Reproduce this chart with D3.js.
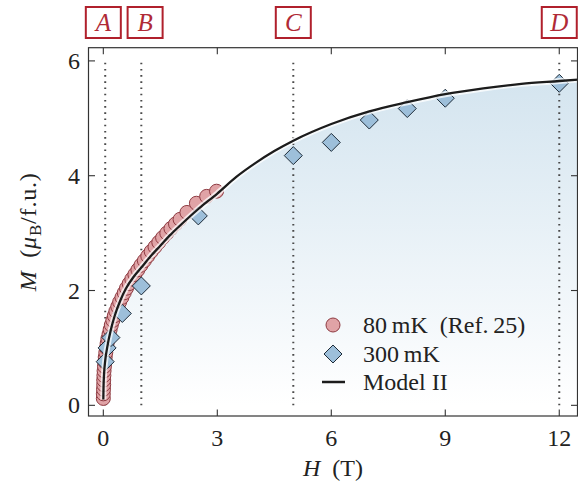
<!DOCTYPE html>
<html>
<head>
<meta charset="utf-8">
<script src="https://cdn.jsdelivr.net/npm/d3@7"></script>
<style>
  html, body { margin: 0; padding: 0; background: #fff; }
  svg { display: block; }
  text { font-family: "Liberation Serif", "Times New Roman", Times, serif; fill: #222; }
</style>
</head>
<body>
<script>
// Magnetization M(H): 80 mK data, 300 mK data and the Model II curve
const xTicks = [0, 3, 6, 9, 12];
const yTicks = [0, 2, 4, 6];

// 80 mK (Ref. 25)
const h80 = [0.00, 0.00, 0.005, 0.01, 0.01, 0.015, 0.02, 0.03, 0.04, 0.05, 0.065, 0.08, 0.10, 0.12,
             0.15, 0.18, 0.21, 0.25, 0.29, 0.33, 0.38, 0.43, 0.49, 0.55, 0.61, 0.68, 0.75, 0.83,
             0.91, 0.99, 1.08, 1.17, 1.26, 1.36, 1.46, 1.56, 1.67, 1.78, 1.90, 2.02, 2.20, 2.45,
             2.72, 2.98];
const m80 = [0.12, 0.20, 0.28, 0.36, 0.44, 0.52, 0.60, 0.68, 0.76, 0.84, 0.92, 1.00, 1.08, 1.16,
             1.24, 1.32, 1.40, 1.48, 1.56, 1.64, 1.72, 1.80, 1.88, 1.96, 2.04, 2.12, 2.20, 2.28,
             2.36, 2.44, 2.52, 2.60, 2.68, 2.76, 2.84, 2.92, 3.00, 3.08, 3.16, 3.24, 3.36, 3.52,
             3.64, 3.73];

// 300 mK
const h300 = [0.05, 0.10, 0.20, 0.50, 1.00, 2.50, 5, 6, 7, 8, 9, 12];
const m300 = [0.76, 1.00, 1.18, 1.60, 2.08, 3.30, 4.35, 4.58, 4.97, 5.17, 5.35, 5.61];

// Model II
const hModel = [0, 0.005, 0.02, 0.05, 0.10, 0.20, 0.30, 0.45, 0.60, 0.80, 1.00, 1.25, 1.50, 1.75,
                2.00, 2.50, 3.00, 3.50, 4.00, 4.50, 5, 6, 7, 8, 9, 10, 11, 12, 12.6];
const mModel = [0.10, 0.30, 0.55, 0.78, 1.00, 1.32, 1.56, 1.83, 2.04, 2.24, 2.40, 2.60, 2.78, 2.96,
                3.12, 3.42, 3.69, 3.98, 4.22, 4.43, 4.61, 4.90, 5.12, 5.28, 5.42, 5.52, 5.60, 5.65, 5.68];

// Marked fields A-D
const markLabels = ["A", "B", "C", "D"];
const markLineH = [0.05, 1, 5, 12];
const markBoxH = [0, 1.1, 5, 12];

const W = 578, H = 489;
const plot = { left: 88.5, right: 577.5, top: 47.7, bottom: 416 };

const x = d3.scaleLinear().domain([-0.39, 12.48]).range([plot.left, plot.right]);
const y = d3.scaleLinear().domain([-0.186, 6.23]).range([plot.bottom, plot.top]);

const svg = d3.select("body").append("svg").attr("width", W).attr("height", H);
const defs = svg.append("defs");

defs.append("clipPath").attr("id", "plotClip")
  .append("rect")
  .attr("x", plot.left).attr("y", plot.top)
  .attr("width", plot.right - plot.left).attr("height", plot.bottom - plot.top);

const grad = defs.append("linearGradient").attr("id", "fillGrad")
  .attr("gradientUnits", "userSpaceOnUse")
  .attr("x1", 0).attr("x2", 0).attr("y1", y(5.8)).attr("y2", y(0));
grad.append("stop").attr("offset", 0).attr("stop-color", "#d3e4ef");
grad.append("stop").attr("offset", 1).attr("stop-color", "#ffffff");

const model = hModel.map((h, i) => [h, mModel[i]]);
const g = svg.append("g").attr("clip-path", "url(#plotClip)");

// shaded area under the model curve
g.append("path")
  .datum(model)
  .attr("d", d3.area().x(d => x(d[0])).y0(y.range()[0]).y1(d => y(d[1])).curve(d3.curveMonotoneX))
  .attr("fill", "url(#fillGrad)");

// dotted field markers
g.selectAll("line.mark").data(markLineH).join("line")
  .attr("class", "mark")
  .attr("x1", d => x(d)).attr("x2", d => x(d))
  .attr("y1", y(0)).attr("y2", y(6))
  .attr("stroke", "#4a4a4a").attr("stroke-width", 2)
  .attr("stroke-dasharray", "1.6,4.6");

// 80 mK circles
g.selectAll("circle.d80").data(h80.map((h, i) => [h, m80[i]])).join("circle")
  .attr("class", "d80")
  .attr("cx", d => x(d[0])).attr("cy", d => y(d[1])).attr("r", 7)
  .attr("fill", "#e0a3a6").attr("stroke", "#8e3b42").attr("stroke-width", 1);

// 300 mK diamonds
const diamond = s => `M0,${-s}L${s},0L0,${s}L${-s},0Z`;
g.selectAll("path.d300").data(h300.map((h, i) => [h, m300[i]])).join("path")
  .attr("class", "d300")
  .attr("transform", d => `translate(${x(d[0])},${y(d[1])})`)
  .attr("d", diamond(9))
  .attr("fill", "#9dbfda").attr("stroke", "#1d2b38").attr("stroke-width", 1);

// model curve with a light halo
const line = d3.line().x(d => x(d[0])).y(d => y(d[1])).curve(d3.curveMonotoneX);
g.append("path").datum(model).attr("d", line)
  .attr("fill", "none").attr("stroke", "#fff").attr("stroke-opacity", 0.75).attr("stroke-width", 6);
g.append("path").datum(model).attr("d", line)
  .attr("fill", "none").attr("stroke", "#1c1c1c").attr("stroke-width", 2.3);

// frame
svg.append("rect")
  .attr("x", plot.left).attr("y", plot.top)
  .attr("width", plot.right - plot.left).attr("height", plot.bottom - plot.top)
  .attr("fill", "none").attr("stroke", "#333").attr("stroke-width", 1.2);

// inward ticks on all four sides
const tk = 6.5;
const ticks = svg.append("g").attr("stroke", "#333").attr("stroke-width", 1.1);
xTicks.forEach(t => {
  ticks.append("line").attr("x1", x(t)).attr("x2", x(t)).attr("y1", plot.bottom).attr("y2", plot.bottom - tk);
  ticks.append("line").attr("x1", x(t)).attr("x2", x(t)).attr("y1", plot.top).attr("y2", plot.top + tk);
});
yTicks.forEach(t => {
  ticks.append("line").attr("x1", plot.left).attr("x2", plot.left + tk).attr("y1", y(t)).attr("y2", y(t));
  ticks.append("line").attr("x1", plot.right).attr("x2", plot.right - tk).attr("y1", y(t)).attr("y2", y(t));
});

// tick labels
svg.selectAll("text.xt").data(xTicks).join("text")
  .attr("class", "xt")
  .attr("x", d => x(d)).attr("y", 446)
  .attr("text-anchor", "middle").attr("font-size", 24)
  .text(d => d);
svg.selectAll("text.yt").data(yTicks).join("text")
  .attr("class", "yt")
  .attr("x", 80).attr("y", d => y(d) + 8)
  .attr("text-anchor", "end").attr("font-size", 24)
  .text(d => d);

// axis titles
const xl = svg.append("text").attr("x", (plot.left + plot.right) / 2).attr("y", 476)
  .attr("text-anchor", "middle").attr("font-size", 24);
xl.append("tspan").attr("font-style", "italic").text("H");
xl.append("tspan").text("\u2002(T)");

const yl = svg.append("text")
  .attr("transform", `translate(36,${(plot.top + plot.bottom) / 2}) rotate(-90)`)
  .attr("text-anchor", "middle").attr("font-size", 24)
  .attr("letter-spacing", 0.8);
yl.append("tspan").attr("font-style", "italic").text("M");
yl.append("tspan").text("\u2002(");
yl.append("tspan").attr("font-style", "italic").text("\u03bc");
yl.append("tspan").attr("font-size", 17).attr("dy", 5).text("B");
yl.append("tspan").attr("dy", -5).text("/f.u.)");

// field marker boxes
const boxW = 35, boxH = 31, boxTop = 7;
const boxes = svg.selectAll("g.box").data(markLabels).join("g")
  .attr("class", "box")
  .attr("transform", (d, i) => `translate(${x(markBoxH[i])},0)`);
boxes.append("rect")
  .attr("x", -boxW / 2).attr("y", boxTop).attr("width", boxW).attr("height", boxH)
  .attr("fill", "#fff").attr("stroke", "#b0202c").attr("stroke-width", 2);
boxes.append("text")
  .attr("x", 0).attr("y", boxTop + boxH / 2 + 8.5)
  .attr("text-anchor", "middle").attr("font-size", 25).attr("font-style", "italic")
  .style("fill", "#b02a36")
  .text(d => d);

// legend
const lg = svg.append("g");
lg.append("circle").attr("cx", 333).attr("cy", 325).attr("r", 7)
  .attr("fill", "#e0a3a6").attr("stroke", "#8e3b42").attr("stroke-width", 1);
lg.append("path").attr("transform", "translate(333,354)").attr("d", diamond(9))
  .attr("fill", "#9dbfda").attr("stroke", "#1d2b38").attr("stroke-width", 1);
lg.append("line").attr("x1", 322).attr("x2", 345).attr("y1", 382).attr("y2", 382)
  .attr("stroke", "#1c1c1c").attr("stroke-width", 2.5);
const legendText = ["80\u2009mK\u2002(Ref.\u200925)", "300\u2009mK", "Model II"];
lg.selectAll("text").data(legendText).join("text")
  .attr("x", 363).attr("y", (d, i) => 333 + i * 28.7)
  .attr("font-size", 24)
  .text(d => d);
</script>
</body>
</html>
